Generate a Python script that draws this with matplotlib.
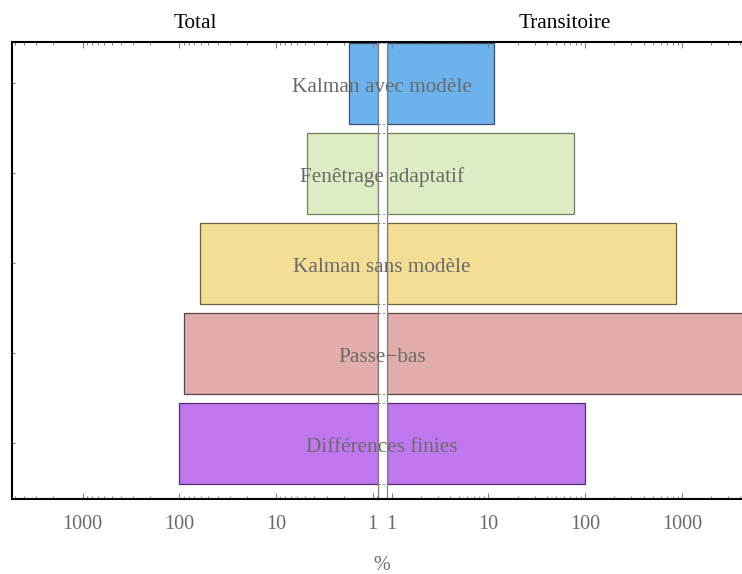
import matplotlib
matplotlib.use('Agg')
import matplotlib.pyplot as plt
import numpy as np
from matplotlib.transforms import blended_transform_factory
from matplotlib.lines import Line2D
from matplotlib.ticker import FixedLocator, FixedFormatter, LogLocator, NullFormatter

methods = ["Kalman avec modèle", "Fenêtrage adaptatif", "Kalman sans modèle",
           "Passe\u2212bas", "Différences finies"]
total = [1.76, 4.75, 61, 90, 100]
transitoire = [11.5, 76, 870, 10000, 100]
colors = ["#6CB3EE", "#DDECC2", "#F4DE96", "#E3ADAC", "#C077F0"]
edges = ["#34506E", "#707E60", "#6E6238", "#5E4545", "#50306A"]
tick_vals = [1, 10, 100, 1000]
tick_labels = ["1", "10", "100", "1000"]
titles = ["Total", "Transitoire"]
unit = "%"

FONT = ["Liberation Serif", "DejaVu Serif"]
plt.rcParams['font.family'] = FONT
FS = 14.5
FS_TXT = 15.3
GRAY = "#6a6a6a"

W, H = 742, 574
fig = plt.figure(figsize=(W / 100, H / 100), dpi=100)


def fx(px):
    return px / W


def fy(py):
    return 1 - py / H


top, bot = 42, 499
lx0, lx1 = 12, 377.7
rx0, rx1 = 386.7, 742
axL = fig.add_axes([fx(lx0), fy(bot), fx(lx1 - lx0), (bot - top) / H])
axR = fig.add_axes([fx(rx0), fy(bot), fx(rx1 - rx0), (bot - top) / H])

base = 10 ** -0.0517
ypos = np.arange(len(methods))[::-1].astype(float)
bh = 0.9

axL.barh(ypos, np.array(total) - base, left=base, height=bh, color=colors,
         edgecolor=edges, linewidth=0.9)
axR.barh(ypos, np.array(transitoire) - base, left=base, height=bh, color=colors,
         edgecolor=edges, linewidth=0.9)

for ax in (axL, axR):
    ax.set_xscale('log')
    ax.set_ylim(-0.622, 4.456)
    ax.xaxis.set_major_locator(FixedLocator(tick_vals))
    ax.xaxis.set_major_formatter(FixedFormatter(tick_labels))
    ax.xaxis.set_minor_locator(LogLocator(base=10, subs=np.arange(2, 10)))
    ax.xaxis.set_minor_formatter(NullFormatter())
    ax.tick_params(axis='x', which='both', direction='in', top=True, bottom=True,
                   color='#808080', labelcolor=GRAY, labelsize=FS, pad=11.5)
    ax.tick_params(axis='x', which='major', length=4.5, width=0.8)
    ax.tick_params(axis='x', which='minor', length=2.2, width=0.7)
    for s in ('top', 'bottom'):
        ax.spines[s].set_color('black')
        ax.spines[s].set_linewidth(1.5)

axL.set_xlim(10 ** 3.730, base)
axR.set_xlim(base, 10 ** 3.619)

axL.set_yticks(ypos)
axL.set_yticklabels([])
axL.tick_params(axis='y', direction='in', length=2.5, width=0.8, color='#808080')
axR.set_yticks([])

axL.spines['left'].set_color('black')
axL.spines['left'].set_linewidth(1.5)
axL.spines['right'].set_color('#808080')
axL.spines['right'].set_linewidth(0.9)
axR.spines['left'].set_color('#808080')
axR.spines['left'].set_linewidth(0.9)
axR.spines['right'].set_visible(False)

axL.set_title(titles[0], fontsize=FS_TXT, color='black', pad=10)
axR.set_title(titles[1], fontsize=FS_TXT, color='black', pad=10)

# frame across the gap
for py in (top, bot):
    fig.add_artist(Line2D([fx(lx1), fx(rx0)], [fy(py), fy(py)], transform=fig.transFigure,
                          color='black', lw=1.5, solid_capstyle='butt'))

tr = blended_transform_factory(fig.transFigure, axL.transData)
for y in ypos:
    for e in (y - bh / 2, y + bh / 2):
        fig.add_artist(Line2D([fx(lx1), fx(rx0)], [e, e], transform=tr, color='#909090',
                              lw=0.8, linestyle=(0, (2, 2))))

xc = fx((lx1 + rx0) / 2)
for name, y in zip(methods, ypos):
    fig.text(xc, y - 0.097, name, transform=tr, ha='center', va='baseline',
             fontsize=FS_TXT, color=GRAY, zorder=5)

fig.text(fx(382), fy(565.5), unit, ha='center', va='center', fontsize=FS, color=GRAY)

fig.savefig("out.png", dpi=100)
